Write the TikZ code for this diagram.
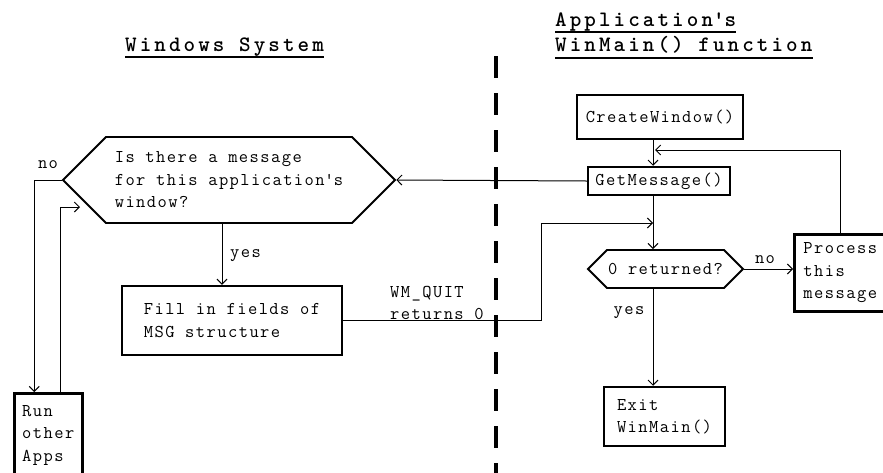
\documentclass[tikz,border=0pt]{standalone}
\usepackage{fontspec}
\usetikzlibrary{arrows.meta,shapes.symbols}
\newfontfamily\bodyfont[LetterSpace=8]{Latin Modern Mono}
\newfontfamily\headfont[LetterSpace=14]{Latin Modern Mono Light}
\begin{document}
\begin{tikzpicture}[x=1pt,y=-1pt,
  txt/.style={font=\bodyfont\fontsize{18}{22.5}\selectfont, align=left, inner sep=0pt},
  box/.style={txt, draw=black, line width=2.5pt, fill=white},
  hex/.style={txt, draw=black, line width=1.8pt, signal, signal to=east and west, signal pointer angle=90},
  conn/.style={black, line width=1pt, -{Straight Barb[length=5pt,width=10pt]}},
  head/.style={font=\headfont\bfseries\fontsize{22}{24}\selectfont, inner sep=0pt, anchor=base west},
  ul/.style={black, line width=2.5pt}]
\clip (0,0) rectangle (883,472);
\draw [black, line width=4pt, dash pattern=on 22pt off 15pt] (496,56) -- (496,480);
\node [head] (winsys) at (125,51) {Windows System};
\node [head] (apptitle) at (555,26) {Application\textquotesingle s};
\node [head] (wintitle) at (555,51) {WinMain() function};
\draw [ul] ([yshift=-6pt]winsys.base west) -- ([yshift=-6pt]winsys.base east);
\draw [ul] ([yshift=-6pt]apptitle.base west) -- ([yshift=-6pt]apptitle.base east);
\draw [ul] ([yshift=-7pt]wintitle.base west) -- ([yshift=-7pt]wintitle.base east);
\node [box, minimum width=166pt, minimum height=44pt] (create) at (660,117) {CreateWindow()};
\node [box, minimum width=142pt, minimum height=28pt] (getmsg) at (659,181) {GetMessage()};
\node [hex, minimum width=332pt, minimum height=86pt] (hexq) at (229,180) {Is there a message\\for this application\textquotesingle s\\window?};
\node [box, minimum width=220pt, minimum height=69pt] (fill) at (232,320.5) {Fill in fields of\\MSG structure};
\node [box, anchor=north west, minimum width=68pt, minimum height=84pt] (run) at (13,392) {Run\\other\\Apps};
\node [hex, minimum width=155pt, minimum height=38pt] (hexr) at (665.5,269) {0 returned?};
\node [box, anchor=north west, minimum width=92pt, minimum height=77pt] (process) at (793,233) {Process\\this\\message};
\node [box, minimum width=121pt, minimum height=59pt] (exit) at (664.5,416.5) {Exit\\WinMain()};
\coordinate (loopin) at (655,150);
\coordinate (quitin) at (653,223);
\coordinate (backin) at (80,207);
\draw [conn] (create.south -| quitin) -- (getmsg.north -| quitin);
\draw [conn] (process.north) |- (loopin);
\draw [conn] (getmsg.west) -- (hexq.east);
\draw [conn] ([xshift=-7pt]hexq.south) -- ([xshift=-7pt]hexq.south |- fill.north);
\draw [conn] (hexq.west) -| ([xshift=-14pt]run.north);
\draw [conn] ([xshift=12pt]run.north) |- (backin);
\draw [conn] (fill.east) -- ++(198,0) |- (quitin);
\draw [conn] (getmsg.south -| quitin) -- (hexr.north -| quitin);
\draw [conn] (hexr.east) -- (hexr.east -| process.west);
\draw [conn] (hexr.south -| quitin) -- (exit.north -| quitin);
\node [txt] (noleft) at (48,165) {no};
\node [txt, anchor=west] (yesleft) at (230,256) {yes};
\node [txt, anchor=north west] (quit) at (390,286) {WM\_QUIT\\returns 0};
\node [txt] (noright) at (765,260) {no};
\node [txt] (yesright) at (629,313) {yes};
\end{tikzpicture}
\end{document}
